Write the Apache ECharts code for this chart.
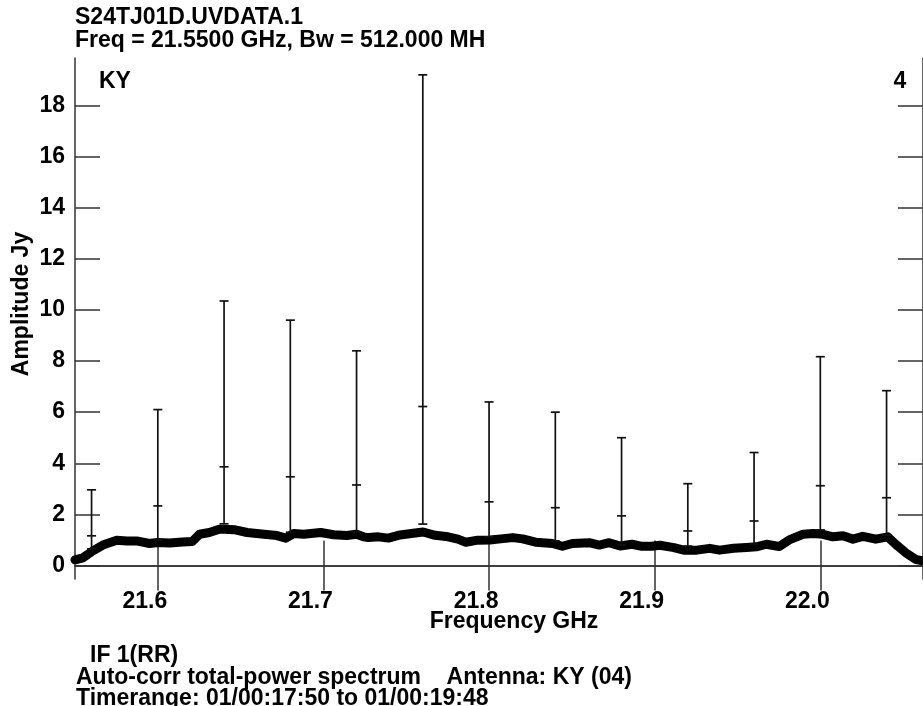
<!DOCTYPE html>
<html>
<head>
<meta charset="utf-8">
<script src="https://cdn.jsdelivr.net/npm/echarts@6/dist/echarts.min.js"></script>
<style>
html,body{margin:0;padding:0;background:#fff;}
#chart{width:923px;height:706px;}
</style>
</head>
<body>
<div id="chart"></div>
<script>
// Spectrum (thick line): frequency in GHz and amplitude in Jy
const freqGHz = [21.550,21.5548,21.5608,21.5668,21.5752,21.5812,21.5872,21.5950,21.5998,21.6071,21.6149,21.6209,21.6251,21.6311,21.6371,21.6401,21.6461,21.6539,21.6641,21.6719,21.6773,21.6821,21.6881,21.6983,21.7062,21.7140,21.7200,21.7242,21.7272,21.7332,21.7392,21.7452,21.7530,21.7602,21.7674,21.7752,21.7812,21.7860,21.7932,21.8005,21.8071,21.8143,21.8203,21.8281,21.8383,21.8443,21.8503,21.8605,21.8665,21.8725,21.8791,21.8863,21.8923,21.8983,21.9032,21.9116,21.9176,21.9254,21.9332,21.9392,21.9476,21.9554,21.9614,21.9674,21.9752,21.9812,21.9896,21.9956,22.0016,22.0077,22.0137,22.0197,22.0257,22.0335,22.0407,22.0455,22.0515,22.0575,22.0617];
const ampJy   = [0.22,0.30,0.57,0.80,0.99,0.96,0.96,0.86,0.90,0.88,0.92,0.94,1.22,1.29,1.42,1.42,1.40,1.29,1.22,1.17,1.07,1.25,1.22,1.29,1.20,1.17,1.22,1.12,1.09,1.12,1.07,1.18,1.25,1.31,1.18,1.12,1.03,0.91,0.99,1.00,1.04,1.09,1.04,0.91,0.86,0.75,0.86,0.89,0.80,0.89,0.76,0.83,0.75,0.75,0.79,0.70,0.60,0.60,0.67,0.60,0.67,0.70,0.73,0.83,0.74,1.00,1.22,1.25,1.22,1.12,1.16,1.03,1.14,1.03,1.12,0.83,0.50,0.24,0.18];

// Error bars: position and the three marked levels
const barFreq = [21.56,21.60,21.64,21.68,21.72,21.76,21.80,21.84,21.88,21.92,21.96,22.00,22.04];
const barLow  = [0.65,1.00,1.63,1.30,1.30,1.62,1.12,0.96,0.80,0.76,0.84,1.39,1.19];
const barMid  = [1.16,2.33,3.86,3.47,3.15,6.22,2.49,2.26,1.94,1.35,1.74,3.12,2.65];
const barHigh = [2.96,6.10,10.35,9.60,8.40,19.20,6.40,6.00,5.00,3.20,4.42,8.17,6.84];

// Axis ticks and labels
const xTicks = [21.6,21.7,21.8,21.9,22.0];
const yTicks = [0,2,4,6,8,10,12,14,16,18];

const FONT = '"Liberation Sans", Arial, Helvetica, sans-serif';
const FS = 23;
const F = 'bold ' + FS + 'px ' + FONT;
const INK = '#111111';
const AX = '#333333';

const spectrum = freqGHz.map((f,i)=>[f, ampJy[i]]);
const bars = barFreq.map((f,i)=>[f, barLow[i], barMid[i], barHigh[i]]);

const chart = echarts.init(document.getElementById('chart'), null, {renderer:'canvas'});

const tickStyle = {show:true, inside:true, length:25, lineStyle:{color:AX, width:1.5}};
const lineStyle = {show:true, lineStyle:{color:AX, width:1.5}};

const option = {
  animation:false,
  backgroundColor:'#ffffff',
  grid:{left:75, top:58, width:852, height:521, containLabel:false},
  xAxis:[
    {type:'value', min:21.55, max:22.062, position:'bottom',
     axisLine:lineStyle, splitLine:{show:false},
     axisTick:Object.assign({customValues:xTicks}, tickStyle),
     axisLabel:{customValues:xTicks, margin:11, color:'#000', fontSize:FS, fontWeight:'bold', fontFamily:FONT,
       padding:[0,26,0,0], formatter:v=>v.toFixed(1)}},
    {type:'value', min:21.55, max:22.062, position:'top',
     axisLine:lineStyle, splitLine:{show:false},
     axisTick:Object.assign({customValues:xTicks}, tickStyle),
     axisLabel:{show:false}}
  ],
  yAxis:[
    {type:'value', min:-0.53, max:19.86, position:'left',
     axisLine:lineStyle, splitLine:{show:false},
     axisTick:Object.assign({customValues:yTicks}, tickStyle),
     axisLabel:{customValues:yTicks, margin:10, color:'#000', fontSize:FS, fontWeight:'bold', fontFamily:FONT}},
    {type:'value', min:-0.53, max:19.86, position:'right',
     axisLine:lineStyle, splitLine:{show:false},
     axisTick:Object.assign({customValues:yTicks}, tickStyle),
     axisLabel:{show:false}}
  ],
  series:[
    {type:'line', data:spectrum, showSymbol:false, symbol:'none', smooth:false,
     lineStyle:{color:'#000', width:9, cap:'round', join:'round'}, z:2, silent:true},
    {type:'custom', data:bars, z:3, silent:true,
     renderItem:function(params, api){
       const x = api.value(0);
       const pL = api.coord([x, api.value(1)]);
       const pM = api.coord([x, api.value(2)]);
       const pH = api.coord([x, api.value(3)]);
       const st = {stroke:INK, lineWidth:1.7};
       const hw = 4.5;
       const cross = p => ({type:'line', shape:{x1:p[0]-hw, y1:p[1], x2:p[0]+hw, y2:p[1]}, style:st});
       return {type:'group', children:[
         {type:'line', shape:{x1:pL[0], y1:pL[1], x2:pH[0], y2:pH[1]}, style:st},
         cross(pL), cross(pM), cross(pH)
       ]};
     }}
  ],
  graphic:[
    {type:'text', x:75, y:18, style:{text:'S24TJ01D.UVDATA.1', fill:'#000', font:F, verticalAlign:'middle'}},
    {type:'text', x:75, y:41, style:{text:'Freq = 21.5500 GHz, Bw = 512.000 MH', fill:'#000', font:F, verticalAlign:'middle'}},
    {type:'text', x:99, y:82, style:{text:'KY', fill:'#000', font:F, verticalAlign:'middle'}},
    {type:'text', x:900, y:82, style:{text:'4', fill:'#000', font:F, align:'center', verticalAlign:'middle'}},
    {type:'text', x:22, y:304, rotation:Math.PI/2, style:{text:'Amplitude Jy', fill:'#000', font:F, align:'center', verticalAlign:'middle'}},
    {type:'text', x:514, y:622, style:{text:'Frequency GHz', fill:'#000', font:F, align:'center', verticalAlign:'middle'}},
    {type:'text', x:90, y:656, style:{text:'IF 1(RR)', fill:'#000', font:F, align:'left', verticalAlign:'middle'}},
    {type:'text', x:76, y:678, style:{text:'Auto-corr total-power spectrum    Antenna: KY (04)', fill:'#000', font:F, align:'left', verticalAlign:'middle'}},
    {type:'text', x:76, y:699, style:{text:'Timerange: 01/00:17:50 to 01/00:19:48', fill:'#000', font:F, align:'left', verticalAlign:'middle'}}
  ]
};
chart.setOption(option);
</script>
</body>
</html>
